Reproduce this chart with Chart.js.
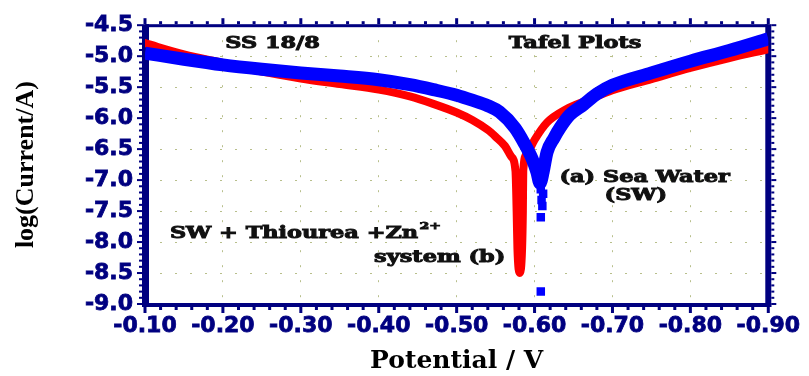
<!DOCTYPE html>
<html>
<head>
<meta charset="utf-8">
<script src="https://cdn.jsdelivr.net/npm/chart.js@4.4.1/dist/chart.umd.min.js"></script>
<style>
  body { margin: 0; background: #fff; }
</style>
</head>
<body>
<canvas id="myChart" width="809" height="376"></canvas>
<script>
// (b) SW + Thiourea + Zn2+  (red)
const potentialB = [-0.10, -0.15, -0.20, -0.25, -0.30, -0.35, -0.40, -0.44, -0.47, -0.50, -0.52, -0.54, -0.55, -0.562, -0.570, -0.5755, -0.577, -0.578, -0.581, -0.584, -0.585, -0.5855, -0.590, -0.600, -0.616, -0.640, -0.670, -0.700, -0.750, -0.800, -0.850, -0.900];
const logIB = [-4.79, -4.97, -5.11, -5.25, -5.36, -5.45, -5.54, -5.65, -5.77, -5.91, -6.03, -6.19, -6.30, -6.45, -6.62, -6.85, -7.50, -8.10, -8.50, -8.10, -7.50, -6.85, -6.58, -6.35, -6.07, -5.86, -5.70, -5.55, -5.37, -5.19, -5.03, -4.89];

// (a) Sea water (blue)
const potentialA = [-0.10, -0.15, -0.20, -0.25, -0.30, -0.35, -0.40, -0.44, -0.47, -0.50, -0.52, -0.54, -0.555, -0.575, -0.587, -0.597, -0.603, -0.607, -0.611, -0.616, -0.625, -0.633, -0.645, -0.663, -0.680, -0.700, -0.750, -0.800, -0.850, -0.900];
const logIA = [-4.95, -5.05, -5.14, -5.21, -5.27, -5.32, -5.38, -5.46, -5.54, -5.63, -5.71, -5.80, -5.90, -6.16, -6.41, -6.66, -6.87, -7.05, -6.87, -6.55, -6.32, -6.15, -5.95, -5.78, -5.61, -5.47, -5.27, -5.08, -4.91, -4.72];

// loose points under the sea water minimum
const tailPotential = [-0.608, -0.611, -0.609, -0.610, -0.608, -0.608];
const tailLogI = [-7.15, -7.22, -7.32, -7.42, -7.60, -8.80];

// text inside the plot
const noteText = ['SS 18/8', 'Tafel Plots', '(a) Sea Water', '(SW)', 'SW + Thiourea +Zn', 'system (b)'];
const noteX = [-0.203, -0.567, -0.632, -0.730, -0.132, -0.394];
const noteY = [-4.872, -4.872, -7.03, -7.324, -7.929, -8.317];
const noteAlign = ['left', 'left', 'left', 'center', 'left', 'left'];

const navy = '#000080';

function pts(xs, ys) {
  return xs.map((v, i) => ({x: v, y: ys[i]}));
}

// axis box with minor ticks, drawn under the curves
const frame = {
  id: 'frame',
  beforeDatasetsDraw(chart) {
    const {ctx, chartArea: a, scales: {x, y}} = chart;
    ctx.save();
    ctx.fillStyle = navy;
    ctx.fillRect(a.left - 3, a.top - 1, 7, a.bottom - a.top + 4);
    ctx.fillRect(a.left - 3, a.bottom - 1, a.right - a.left + 6, 4);
    ctx.fillRect(a.left, a.top - 1, a.right - a.left, 3);
    ctx.fillRect(a.right - 3, a.top - 1, 6, a.bottom - a.top + 4);
    for (let i = 0; i <= 40; i++) {
      const px = x.getPixelForValue(-0.9 + i * 0.02);
      const major = i % 5 === 0;
      const len = major ? 6 : 3;
      ctx.fillRect(px - 1.5, a.bottom + 3, 3, len);
      ctx.fillRect(px - 1.5, a.top - 1 - len, 3, len);
    }
    for (let j = 0; j <= 45; j++) {
      const py = y.getPixelForValue(-9 + j * 0.1);
      const major = j % 5 === 0;
      const len = major ? 5 : 3;
      ctx.fillRect(a.left - 3 - len, py - 1, len, 2);
      ctx.fillRect(a.right + 3, py - 1, len, 2);
    }
    ctx.restore();
  }
};

// labels, stretched sideways like the original
const notes = {
  id: 'notes',
  afterDatasetsDraw(chart) {
    const {ctx, scales: {x, y}} = chart;
    ctx.save();
    ctx.fillStyle = '#111';
    ctx.strokeStyle = '#111';
    ctx.lineWidth = 0.9;
    ctx.textBaseline = 'alphabetic';
    noteText.forEach((t, i) => {
      const px = x.getPixelForValue(noteX[i]);
      const py = y.getPixelForValue(noteY[i]);
      ctx.save();
      ctx.translate(px, py);
      ctx.scale(1.4, 1);
      ctx.font = 'bold 16px "DejaVu Serif"';
      ctx.textAlign = noteAlign[i];
      ctx.fillText(t, 0, 0);
      ctx.strokeText(t, 0, 0);
      if (t.endsWith('Zn')) {
        const w = ctx.measureText(t).width;
        ctx.font = 'bold 10px "DejaVu Serif"';
        ctx.fillText('2+', w + 1, -9);
        ctx.strokeText('2+', w + 1, -9);
      }
      ctx.restore();
    });
    ctx.restore();
  }
};

new Chart('myChart', {
  type: 'line',
  data: {
    datasets: [
      {
        label: '(a) Sea Water',
        data: pts(potentialA, logIA),
        borderColor: '#0000ff',
        backgroundColor: '#0000ff',
        borderWidth: 13,
        pointRadius: 0,
        cubicInterpolationMode: 'monotone',
        borderJoinStyle: 'round',
        borderCapStyle: 'butt',
        order: 0
      },
      {
        label: 'tail',
        data: pts(tailPotential, tailLogI),
        showLine: false,
        pointStyle: 'rect',
        pointRadius: 6,
        pointBorderWidth: 0,
        backgroundColor: '#0000ff',
        borderColor: '#0000ff',
        order: 0
      },
      {
        label: '(b) SW + Thiourea + Zn2+',
        data: pts(potentialB, logIB),
        borderColor: '#ff0000',
        backgroundColor: '#ff0000',
        borderWidth: 8,
        pointRadius: 0,
        cubicInterpolationMode: 'monotone',
        borderJoinStyle: 'round',
        borderCapStyle: 'round',
        order: 1
      }
    ]
  },
  options: {
    responsive: false,
    animation: false,
    layout: {padding: {left: 0, right: 33, top: 14, bottom: 0}},
    plugins: {
      legend: {display: false},
      tooltip: {enabled: false}
    },
    scales: {
      x: {
        type: 'linear',
        reverse: true,
        min: -0.9,
        max: -0.1,
        afterFit: s => { s.height = 72; },
        border: {display: false, dash: [2, 13]},
        grid: {color: 'rgba(160,170,100,0.75)', lineWidth: 1, drawTicks: false},
        ticks: {
          stepSize: 0.1,
          autoSkip: false,
          maxRotation: 0,
          padding: 9,
          color: navy,
          textStrokeColor: navy,
          textStrokeWidth: 0.8,
          font: {family: 'DejaVu Sans', size: 22, weight: 'bold'},
          callback: v => v.toFixed(2)
        },
        title: {
          display: true,
          text: 'Potential / V',
          color: '#000',
          padding: {top: 0, bottom: 0},
          font: {family: 'DejaVu Serif', size: 25, weight: 'bold'}
        }
      },
      y: {
        min: -9,
        max: -4.5,
        afterFit: s => { s.width = 145; },
        border: {display: false, dash: [2, 13]},
        grid: {color: 'rgba(160,170,100,0.75)', lineWidth: 1, drawTicks: false},
        ticks: {
          stepSize: 0.5,
          padding: 12,
          color: navy,
          textStrokeColor: navy,
          textStrokeWidth: 0.8,
          font: {family: 'DejaVu Sans', size: 22, weight: 'bold'},
          callback: v => v.toFixed(1)
        },
        title: {
          display: true,
          text: 'log(Current/A)',
          color: '#000',
          padding: {top: 11, bottom: 0},
          font: {family: 'Liberation Serif', size: 26, weight: 'bold'}
        }
      }
    }
  },
  plugins: [frame, notes]
});
</script>
</body>
</html>
